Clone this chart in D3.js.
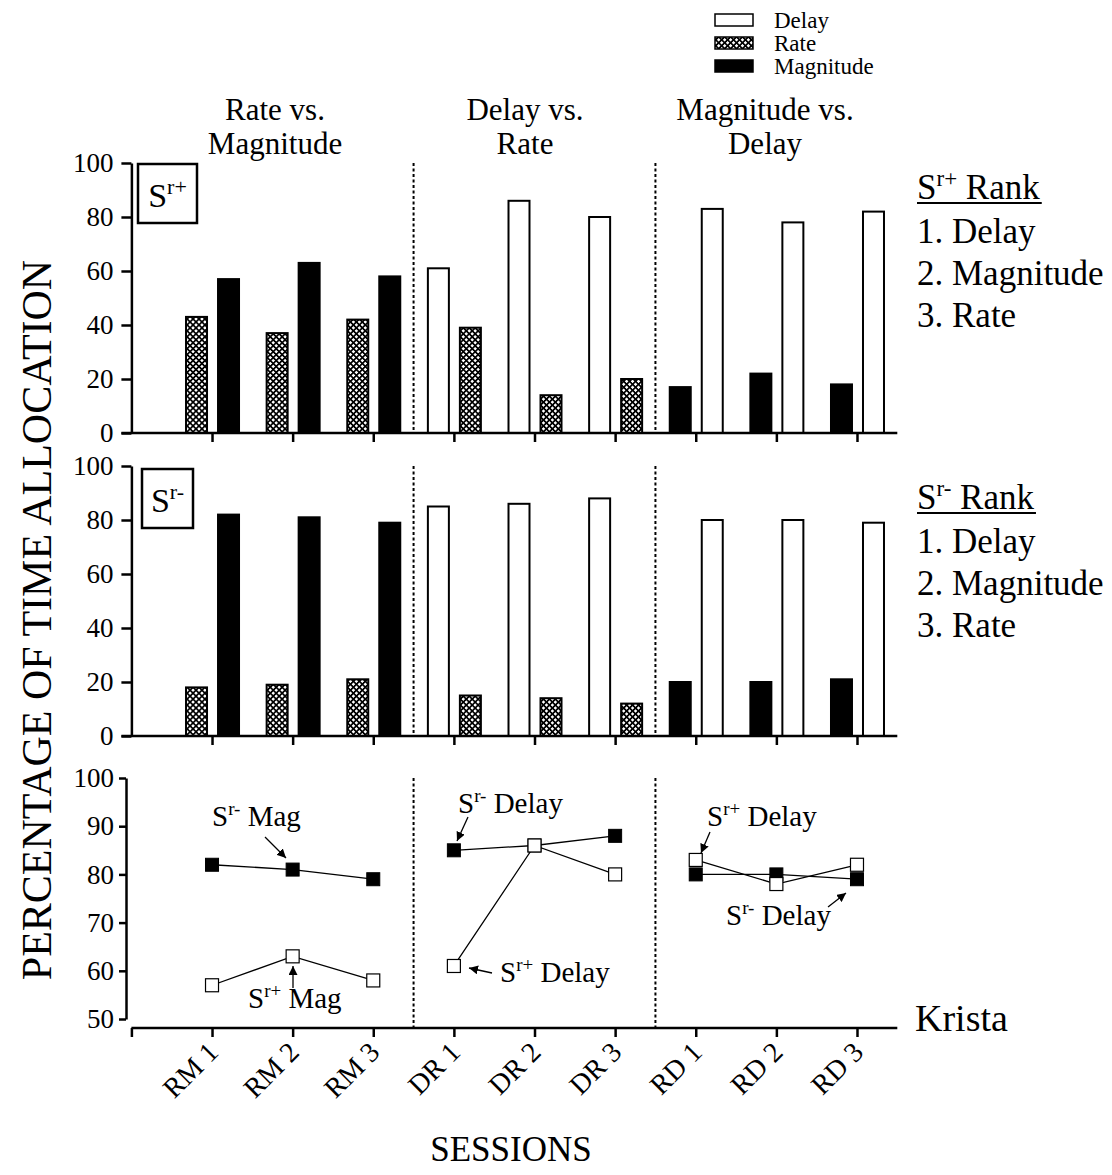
<!DOCTYPE html>
<html><head><meta charset="utf-8">
<script src="https://cdn.jsdelivr.net/npm/d3@7"></script>
<style>
body{margin:0;background:#fff;}
svg{display:block;font-family:"Liberation Serif","Times New Roman",serif;}
</style></head><body>
<svg id="c" width="1112" height="1175"></svg>
<script>
// ---------- data ----------
const sessions = ["RM 1","RM 2","RM 3","DR 1","DR 2","DR 3","RD 1","RD 2","RD 3"];
const leftBarType  = ["Rate","Rate","Rate","Delay","Delay","Delay","Magnitude","Magnitude","Magnitude"];
const rightBarType = ["Magnitude","Magnitude","Magnitude","Rate","Rate","Rate","Delay","Delay","Delay"];
const srPlusLeft   = [43,37,42,61,86,80,17,22,18];
const srPlusRight  = [57,63,58,39,14,20,83,78,82];
const srMinusLeft  = [18,19,21,85,86,88,20,20,21];
const srMinusRight = [82,81,79,15,14,12,80,80,79];
const srMinusLine  = [82,81,79,85,86,88,80,80,79];
const srPlusLine   = [57,63,58,61,86,80,83,78,82];
const conditionTitles = [["Rate vs.","Magnitude"],["Delay vs.","Rate"],["Magnitude vs.","Delay"]];
const barTicks  = [0,20,40,60,80,100];
const lineTicks = [50,60,70,80,90,100];
const legendLabels = ["Delay","Rate","Magnitude"];
const rankOrder = ["1. Delay","2. Magnitude","3. Rate"];

// ---------- setup ----------
const svg = d3.select("#c");
const defs = svg.append("defs");
const pat = defs.append("pattern").attr("id","hatch").attr("patternUnits","userSpaceOnUse")
  .attr("width",4.2).attr("height",4.2).attr("patternTransform","rotate(45)");
pat.append("rect").attr("width",4.2).attr("height",4.2).attr("fill","#fff");
pat.append("rect").attr("width",4.2).attr("height",1.7).attr("fill","#000");
pat.append("rect").attr("width",1.7).attr("height",4.2).attr("fill","#000");
defs.append("marker").attr("id","arr").attr("viewBox","0 0 10 10").attr("refX",10).attr("refY",5)
  .attr("markerWidth",9).attr("markerHeight",9).attr("markerUnits","userSpaceOnUse").attr("orient","auto")
  .append("path").attr("d","M0,0 L10,5 L0,10 z").attr("fill","#000");

const fills = {Delay:"#fff", Rate:"url(#hatch)", Magnitude:"#000"};
const x = d3.scaleLinear().domain([0,9.5]).range([131.4,897.3]);
const sub = d3.scaleBand().domain(["L","R"]).range([-26,27]).paddingInner(0.344);

function supText(g, px, py, sup, rest, fs, sfs, anchor){
  const t = g.append("text").attr("x",px).attr("y",py).attr("font-size",fs).attr("text-anchor",anchor||"start");
  t.append("tspan").text("S");
  t.append("tspan").attr("font-size",sfs).attr("dy",-fs*0.38).text(sup);
  if(rest) t.append("tspan").attr("dy",fs*0.38).text(rest);
  return t;
}

// ---------- bar panels ----------
function barPanel(y0, y100, leftVals, rightVals, boxRect, sup){
  const y = d3.scaleLinear().domain([0,100]).range([y0,y100]);
  const g = svg.append("g");
  sessions.forEach((s,i)=>{
    const cx = x(i+1);
    [["L",leftVals[i],leftBarType[i]],["R",rightVals[i],rightBarType[i]]].forEach(([k,v,t])=>{
      g.append("rect").attr("x",cx+sub(k)).attr("width",sub.bandwidth())
        .attr("y",y(v)).attr("height",y(0)-y(v))
        .attr("fill",fills[t]).attr("stroke","#000").attr("stroke-width",2);
    });
  });
  [3.5,6.5].forEach(v=>{
    g.append("line").attr("x1",x(v)).attr("x2",x(v)).attr("y1",y(100)).attr("y2",y(0))
      .attr("stroke","#000").attr("stroke-width",2).attr("stroke-dasharray","3,2.5");
  });
  const ya = g.append("g").attr("transform",`translate(${x(0)},0)`)
    .call(d3.axisLeft(y).tickValues(barTicks).tickSize(10).tickSizeOuter(0).tickPadding(8));
  ya.selectAll("path,line").attr("stroke","#000").attr("stroke-width",2.5);
  ya.selectAll("text").attr("font-size",27).attr("font-family","Liberation Serif").attr("fill","#000");
  const xa = g.append("g").attr("transform",`translate(0,${y(0)})`)
    .call(d3.axisBottom(x).tickValues(d3.range(1,10)).tickFormat("").tickSize(9).tickSizeOuter(0));
  xa.select(".domain").remove();
  xa.selectAll("line").attr("stroke","#000").attr("stroke-width",2.5);
  g.append("line").attr("x1",x(0)-10).attr("x2",x(9.5)).attr("y1",y(0)).attr("y2",y(0))
    .attr("stroke","#000").attr("stroke-width",2.5);
  g.append("rect").attr("x",boxRect[0]).attr("y",boxRect[1]).attr("width",boxRect[2]).attr("height",boxRect[3])
    .attr("fill","#fff").attr("stroke","#000").attr("stroke-width",2.5);
  supText(g, boxRect[0]+boxRect[2]/2, boxRect[1]+43, sup, null, 34, 22, "middle");
  return y;
}
barPanel(433,163,srPlusLeft,srPlusRight,[138,164,59,59],"r+");
barPanel(736,466,srMinusLeft,srMinusRight,[142,469,51,59],"r-");

// ---------- line panel ----------
const yL = d3.scaleLinear().domain([50,100]).range([1019,778]);
const gl = svg.append("g");
[3.5,6.5].forEach(v=>{
  gl.append("line").attr("x1",x(v)).attr("x2",x(v)).attr("y1",778).attr("y2",1028)
    .attr("stroke","#000").attr("stroke-width",2).attr("stroke-dasharray","3,2.5");
});
const yla = gl.append("g").attr("transform","translate(126,0)")
  .call(d3.axisLeft(yL).tickValues(lineTicks).tickSize(7).tickSizeOuter(0).tickPadding(5));
yla.selectAll("path,line").attr("stroke","#000").attr("stroke-width",2.5);
yla.selectAll("text").attr("font-size",27).attr("font-family","Liberation Serif").attr("fill","#000");
const xla = gl.append("g").attr("transform","translate(0,1028)")
  .call(d3.axisBottom(x).tickValues(d3.range(0,10)).tickFormat("").tickSize(9).tickSizeOuter(0));
xla.select(".domain").attr("d",`M${x(0)},0H${x(9.5)}`);
xla.selectAll("path,line").attr("stroke","#000").attr("stroke-width",2.5);
sessions.forEach((s,i)=>{
  gl.append("text").attr("transform",`translate(${x(i+1)+1},1047) rotate(-45)`)
    .attr("text-anchor","end").attr("dy","0.35em").attr("font-size",28).text(s);
});
const line = d3.line().x(d=>x(d[0]+1)).y(d=>yL(d[1]));
[0,3,6].forEach(st=>{
  const idx=[st,st+1,st+2];
  gl.append("path").attr("d",line(idx.map(i=>[i,srPlusLine[i]]))).attr("fill","none").attr("stroke","#000").attr("stroke-width",1.3);
  gl.append("path").attr("d",line(idx.map(i=>[i,srMinusLine[i]]))).attr("fill","none").attr("stroke","#000").attr("stroke-width",1.3);
});
const ms=13;
srMinusLine.forEach((v,i)=>{
  gl.append("rect").attr("x",x(i+1)-ms/2).attr("y",yL(v)-ms/2).attr("width",ms).attr("height",ms)
    .attr("fill","#000").attr("stroke","#000").attr("stroke-width",1);
});
srPlusLine.forEach((v,i)=>{
  gl.append("rect").attr("x",x(i+1)-ms/2).attr("y",yL(v)-ms/2).attr("width",ms).attr("height",ms)
    .attr("fill","#fff").attr("stroke","#000").attr("stroke-width",1.2);
});
function arrow(x1,y1,x2,y2){
  gl.append("line").attr("x1",x1).attr("y1",y1).attr("x2",x2).attr("y2",y2)
    .attr("stroke","#000").attr("stroke-width",1.3).attr("marker-end","url(#arr)");
}
supText(gl,212,826,"r-"," Mag",29,19); arrow(265,837,286,858);
supText(gl,248,1008,"r+"," Mag",29,19); arrow(293,988,293,966);
supText(gl,458,813,"r-"," Delay",29,19); arrow(468,817,457,841);
supText(gl,500,982,"r+"," Delay",29,19); arrow(492,973,469,968);
supText(gl,707,826,"r+"," Delay",29,19); arrow(710,832,701,853);
supText(gl,726,925,"r-"," Delay",29,19); arrow(828,907,846,893);

// ---------- titles ----------
const titleX = [275,525,765];
conditionTitles.forEach((t,i)=>{
  svg.append("text").attr("x",titleX[i]).attr("y",120).attr("text-anchor","middle").attr("font-size",31).text(t[0]);
  svg.append("text").attr("x",titleX[i]).attr("y",154).attr("text-anchor","middle").attr("font-size",31).text(t[1]);
});

// ---------- legend ----------
legendLabels.forEach((l,i)=>{
  const yy = 14 + i*23;
  svg.append("rect").attr("x",715).attr("y",yy).attr("width",38).attr("height",12)
    .attr("fill",fills[l]).attr("stroke","#000").attr("stroke-width",1.5);
  svg.append("text").attr("x",774).attr("y",yy+6).attr("dy","0.35em").attr("font-size",23).text(l);
});

// ---------- right-side rank text ----------
[[199,"r+"],[509,"r-"]].forEach(([by,sp])=>{
  const t = supText(svg,917,by,sp," Rank",35,23);
  const w = t.node().getComputedTextLength();
  svg.append("line").attr("x1",917).attr("x2",917+w+2).attr("y1",by+4).attr("y2",by+4)
    .attr("stroke","#000").attr("stroke-width",1.8);
  rankOrder.forEach((r,j)=>{
    svg.append("text").attr("x",917).attr("y",by+44+j*42).attr("font-size",35).text(r);
  });
});
svg.append("text").attr("x",915).attr("y",1031).attr("font-size",38).text("Krista");

// ---------- axis titles ----------
svg.append("text").attr("transform","translate(51,620) rotate(-90)").attr("text-anchor","middle")
  .attr("font-size",42).text("PERCENTAGE OF TIME ALLOCATION");
svg.append("text").attr("x",511).attr("y",1161).attr("text-anchor","middle").attr("font-size",35).text("SESSIONS");
</script>
</body></html>
